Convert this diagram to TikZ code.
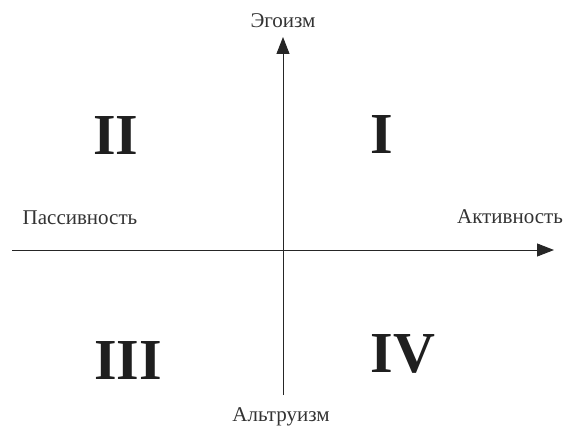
\documentclass[tikz,border=0pt]{standalone}
\usepackage{fontspec}
\setmainfont{Liberation Serif}
\usetikzlibrary{arrows.meta}
\begin{document}
\begin{tikzpicture}[x=1pt,y=-1pt,
  axis/.style={line width=1pt, draw=black!85, -{Triangle[length=17pt,width=13pt]}},
  lab/.style={font=\fontsize{21}{24}\selectfont, text=black!80, inner sep=0pt},
  quad/.style={font=\fontsize{58}{62}\bfseries\selectfont, text=black!88, inner sep=0pt}]
\useasboundingbox (0,0) rectangle (568,428);
\coordinate (vb) at (283,395);
\coordinate (vt) at (283,37);
\coordinate (hl) at (12,250);
\coordinate (hr) at (554,250);
\draw[axis] (vb) -- (vt);
\draw[axis] (hl) -- (hr);
\node[lab] (ego) at (283,21) {Эгоизм};
\node[lab] (pas) at (80,218) {Пассивность};
\node[lab] (akt) at (510,217) {Активность};
\node[lab] (alt) at (281,417) {Альтруизм};
\node[quad] (q2) at (116,136) {II};
\node[quad] (q1) at (382,135) {I};
\node[quad] (q3) at (128,361) {III};
\node[quad] (q4) at (403,354) {IV};
\end{tikzpicture}
\end{document}
